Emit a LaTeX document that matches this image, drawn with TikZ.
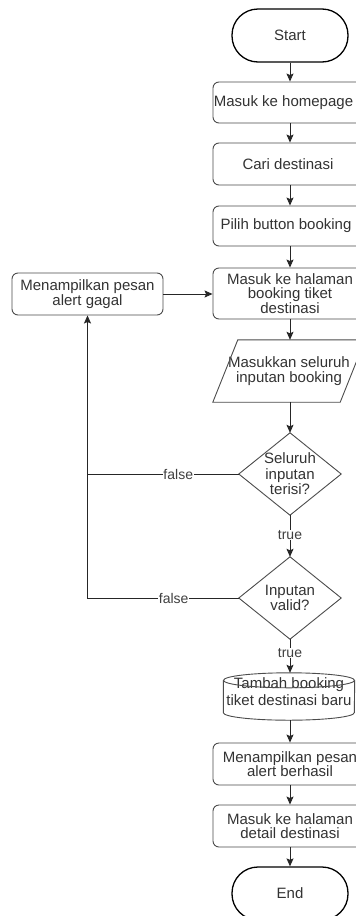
\documentclass[tikz,border=0pt]{standalone}
\usepackage{fontspec}
\setmainfont{Liberation Sans}
\usetikzlibrary{arrows.meta,calc}
\begin{document}
\begin{tikzpicture}[x=1pt,y=-1pt,
  txt/.style={font=\fontsize{15}{14.5}\selectfont, text=black!80, align=center, inner sep=0pt},
  proc/.style={txt, draw=black!70, line width=0.9pt, rounded corners=6pt, minimum width=154pt, minimum height=41pt},
  term/.style={txt, draw=black, line width=1.3pt, rounded corners=26pt, minimum width=116pt, minimum height=53pt},
  shapeline/.style={draw=black!70, line width=0.9pt},
  conn/.style={draw=black!85, line width=0.9pt},
  arr/.style={conn, -{Stealth[length=8pt,width=7pt,inset=1.5pt]}},
  lbl/.style={font=\fontsize{14}{14}\selectfont, text=black!75, fill=white, inner sep=0.5pt}
]
\useasboundingbox (0,0) rectangle (356,916);
\fill[white] (0,0) rectangle (356,916);
\clip (0,0) rectangle (356,916);

\node[term] (start) at (290,35.5) {Start};
\node[proc] (home) at (290,102.5) {\hspace*{-13pt}Masuk ke homepage};
\node[proc, minimum height=42pt] (cari) at (290,164) {\hspace*{-4pt}Cari destinasi};
\node[proc, minimum height=40pt] (pilih) at (290,226) {\hspace*{-8pt}Pilih button booking};
\node[proc, minimum height=51pt] (hal) at (290,293.5) {Masuk ke halaman\\booking tiket\\destinasi};
\node[proc, minimum width=151pt, minimum height=42pt] (gagal) at (87.5,294) {Menampilkan pesan\\alert gagal};

\node[txt, minimum width=152pt, minimum height=62pt] (para) at (289,371) {Masukkan seluruh\\inputan booking};
\draw[shapeline] ([xshift=25pt]para.north west) -- (para.north east) -- ([xshift=-25pt]para.south east) -- (para.south west) -- cycle;

\node[txt, minimum width=102pt, minimum height=82pt, font=\fontsize{15}{15.5}\selectfont] (d1) at (290,474) {Seluruh\\inputan\\terisi?};
\draw[shapeline] (d1.north) -- (d1.east) -- (d1.south) -- (d1.west) -- cycle;

\node[txt, minimum width=102pt, minimum height=82pt, font=\fontsize{15}{15.5}\selectfont] (d2) at (290,598) {Inputan\\valid?};
\draw[shapeline] (d2.north) -- (d2.east) -- (d2.south) -- (d2.west) -- cycle;

\node[txt, minimum width=131pt, minimum height=47pt] (cyl) at (289,696.5) {};
\node[txt, font=\fontsize{15}{17}\selectfont] (cyltxt) at (289,692) {Tambah booking\\tiket destinasi baru};
\draw[shapeline] ($(cyl.north west)+(0,7.5)$) -- ($(cyl.south west)+(0,-7.5)$) arc[start angle=180, end angle=0, x radius=65.5, y radius=7.5] -- ($(cyl.north east)+(0,7.5)$);
\draw[shapeline] ($(cyl.north)+(0,7.5)$) ellipse [x radius=65.5, y radius=7.5];

\node[proc, minimum height=42pt] (berhasil) at (290,764) {Menampilkan pesan\\alert berhasil};
\node[proc, minimum height=42pt] (detail) at (290,826) {Masuk ke halaman\\detail destinasi};
\node[term] (end) at (290,893.5) {End};

\draw[arr] (start.south) -- (home.north);
\draw[arr] (home.south) -- (cari.north);
\draw[arr] (cari.south) -- (pilih.north);
\draw[arr] (pilih.south) -- (hal.north);
\draw[arr] (gagal.east) -- (gagal.east -| hal.west);
\draw[arr] (hal.south) -- (hal.south |- para.north);
\draw[arr] (hal.south |- para.south) -- (d1.north);
\draw[arr] (d1.south) -- node[lbl, pos=0.48] {true} (d2.north);
\draw[arr] (d2.south) -- node[lbl, pos=0.41] {true} (d2.south |- cyl.north);
\draw[arr] (d2.south |- cyl.south) -- (berhasil.north);
\draw[arr] (berhasil.south) -- (detail.north);
\draw[arr] (detail.south) -- (end.north);
\draw[arr] (d1.west) -- node[lbl, pos=0.4] {false} (d1.west -| gagal.south) -- (gagal.south);
\draw[conn] (d2.west) -- node[lbl, pos=0.43] {false} (d2.west -| gagal.south) -- (d1.west -| gagal.south);
\end{tikzpicture}
\end{document}
